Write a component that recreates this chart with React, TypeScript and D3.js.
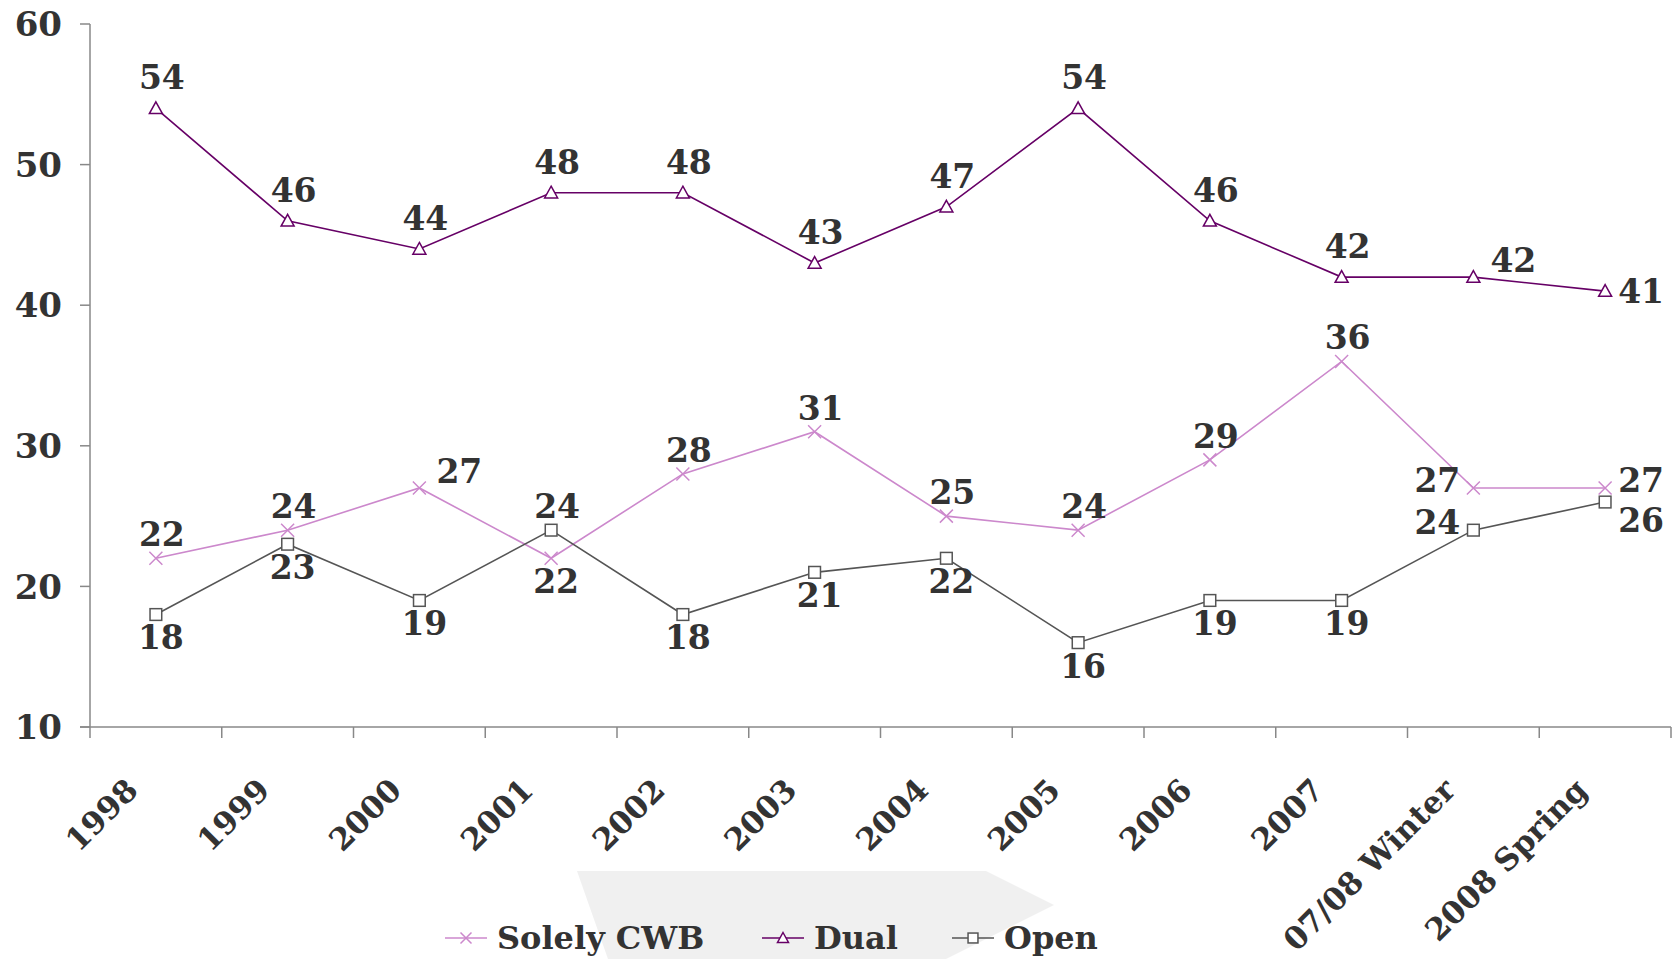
import React, { useEffect, useRef } from 'react';
import * as d3 from 'd3';

// categories on the x axis
const categories = ['1998', '1999', '2000', '2001', '2002', '2003', '2004', '2005', '2006', '2007', '07/08 Winter', '2008 Spring'];

// series values (%)
const solelyCwb = [22, 24, 27, 22, 28, 31, 25, 24, 29, 36, 27, 27];
const dual = [54, 46, 44, 48, 48, 43, 47, 54, 46, 42, 42, 41];
const open = [18, 23, 19, 24, 18, 21, 22, 16, 19, 19, 24, 26];

// where each data label sits relative to its point
const solelyPlace = ['a', 'a', 'ar', 'b', 'a', 'a', 'a', 'a', 'a', 'a', 'l', 'r'];
const dualPlace = ['A', 'A', 'A', 'A', 'A', 'A', 'A', 'A', 'A', 'A', 'ar', 'r0'];
const openPlace = ['b', 'b', 'b', 'a', 'b', 'b', 'b', 'b', 'b', 'b', 'l', 'br'];

const yTicks = [10, 20, 30, 40, 50, 60];

const W = 1673, H = 959;
const FONT = '"DejaVu Serif", serif';
const TEXT = '#333333';

type Marker = 'x' | 'tri' | 'sq';

const seriesList: { name: string; values: number[]; place: string[]; color: string; marker: Marker }[] = [
    { name: 'Solely CWB', values: solelyCwb, place: solelyPlace, color: '#cc88cc', marker: 'x' },
    { name: 'Dual', values: dual, place: dualPlace, color: '#660066', marker: 'tri' },
    { name: 'Open', values: open, place: openPlace, color: '#555555', marker: 'sq' },
];

const offsets: Record<string, [number, number]> = {
    a: [6, -24],
    A: [6, -31],
    b: [5, 23],
    ar: [40, -17],
    l: [-36, -8],
    r: [36, -8],
    r0: [36, 0],
    br: [36, 18],
};

function drawMarker(g: any, kind: Marker, x: number, y: number, color: string, s: number) {
    if (kind === 'x') {
        g.append('path')
            .attr('d', `M${x - s},${y - s}L${x + s},${y + s}M${x - s},${y + s}L${x + s},${y - s}`)
            .attr('stroke', color).attr('stroke-width', 1.5).attr('fill', 'none');
    } else if (kind === 'tri') {
        g.append('path')
            .attr('d', `M${x},${y - s}L${x + s},${y + s * 0.8}L${x - s},${y + s * 0.8}Z`)
            .attr('stroke', color).attr('stroke-width', 1.5).attr('fill', '#fff');
    } else {
        g.append('rect')
            .attr('x', x - s * 0.9).attr('y', y - s * 0.9)
            .attr('width', s * 1.8).attr('height', s * 1.8)
            .attr('stroke', color).attr('stroke-width', 1.5).attr('fill', '#fff');
    }
}

const App: React.FC = () => {
    const ref = useRef<SVGSVGElement>(null);

    useEffect(() => {
        document.body.style.margin = '0';
        if (!ref.current) return;
        const svg = d3.select(ref.current);
        svg.selectAll('*').remove();

        const x = d3.scaleBand().domain(categories).range([90, 1671]).padding(0);
        const y = d3.scaleLinear().domain([10, 60]).range([727, 24]);
        const cx = (c: string) => (x(c) || 0) + x.bandwidth() / 2;

        // background arrow shape behind the legend
        svg.append('path')
            .attr('d', 'M577,871L986,871L1054,905L946,959L608,959Z')
            .attr('fill', '#f0f0f0');

        // y axis
        const axisColor = '#888888';
        svg.append('line').attr('x1', 90).attr('x2', 90).attr('y1', y(60)).attr('y2', y(10))
            .attr('stroke', axisColor).attr('stroke-width', 1.5);
        yTicks.forEach(t => {
            svg.append('line').attr('x1', 80).attr('x2', 90).attr('y1', y(t)).attr('y2', y(t))
                .attr('stroke', axisColor).attr('stroke-width', 1.5);
            svg.append('text')
                .attr('x', 62).attr('y', y(t)).attr('dy', '0.36em')
                .attr('text-anchor', 'end')
                .style('font-family', FONT).style('font-weight', 'bold').style('font-size', '34px')
                .attr('fill', TEXT)
                .text(t);
        });

        // x axis
        svg.append('line').attr('x1', 80).attr('x2', 1671).attr('y1', y(10)).attr('y2', y(10))
            .attr('stroke', axisColor).attr('stroke-width', 1.5);
        const bounds = categories.map(c => x(c) || 0).concat([1671]);
        bounds.forEach(b => {
            svg.append('line').attr('x1', b).attr('x2', b).attr('y1', y(10)).attr('y2', y(10) + 11)
                .attr('stroke', axisColor).attr('stroke-width', 1.5);
        });
        categories.forEach(c => {
            const lx = cx(c) - 16, ly = y(10) + 65;
            svg.append('text')
                .attr('transform', `translate(${lx},${ly}) rotate(-45)`)
                .attr('text-anchor', 'end')
                .style('font-family', FONT).style('font-weight', 'bold').style('font-size', '31px')
                .attr('fill', TEXT)
                .text(c);
        });

        // lines, markers, labels
        const line = d3.line<number>()
            .x((_, i) => cx(categories[i]))
            .y(d => y(d));

        seriesList.forEach(s => {
            svg.append('path')
                .attr('d', line(s.values) || '')
                .attr('fill', 'none')
                .attr('stroke', s.color)
                .attr('stroke-width', 1.6);
        });
        seriesList.forEach(s => {
            const g = svg.append('g');
            s.values.forEach((v, i) => {
                drawMarker(g, s.marker, cx(categories[i]), y(v), s.color, 6.5);
            });
        });
        seriesList.forEach(s => {
            s.values.forEach((v, i) => {
                const [dx, dy] = offsets[s.place[i]];
                svg.append('text')
                    .attr('x', cx(categories[i]) + dx)
                    .attr('y', y(v) + dy)
                    .attr('dy', '0.36em')
                    .attr('text-anchor', 'middle')
                    .style('font-family', FONT).style('font-weight', 'bold').style('font-size', '33px')
                    .attr('fill', TEXT)
                    .text(v);
            });
        });

        // legend
        const legendX = [445, 762, 952];
        const legendY = 938;
        seriesList.forEach((s, i) => {
            const lx = legendX[i];
            svg.append('line').attr('x1', lx).attr('x2', lx + 42).attr('y1', legendY).attr('y2', legendY)
                .attr('stroke', s.color).attr('stroke-width', 1.6);
            const g = svg.append('g');
            drawMarker(g, s.marker, lx + 21, legendY, s.color, 5.5);
            svg.append('text')
                .attr('x', lx + 52).attr('y', legendY + 11)
                .style('font-family', FONT).style('font-weight', 'bold').style('font-size', '32px')
                .attr('fill', TEXT)
                .text(s.name);
        });
    }, []);

    return <svg ref={ref} width={W} height={H} style={{ display: 'block', background: '#fff' }} />;
};

export default App;
